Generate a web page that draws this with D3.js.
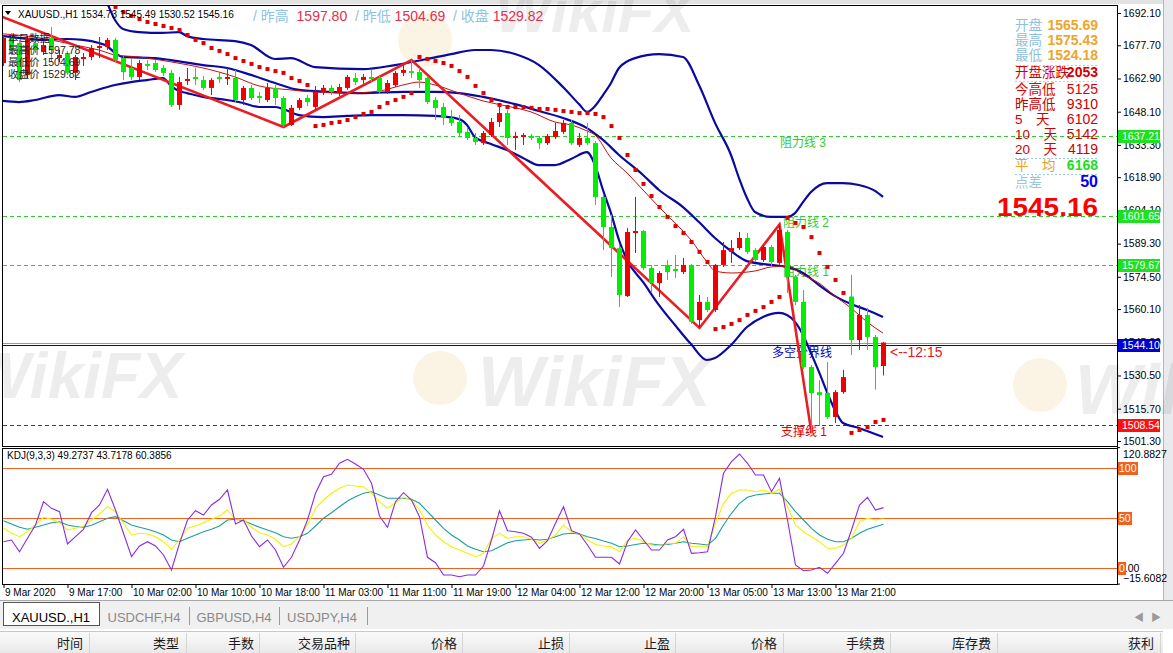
<!DOCTYPE html>
<html>
<head>
<meta charset="utf-8">
<script src="https://cdn.jsdelivr.net/npm/d3@7"></script>
<style>
body { margin: 0; background: #fff; overflow: hidden; }
svg text { font-family: "Liberation Sans", "Noto Sans CJK SC", sans-serif; }
</style>
</head>
<body>
<div id="chart"></div>
<script>
// XAUUSD H1, bars 0..110 (9 Mar 2020 .. 14 Mar)
var opens = [1669.8,1681.0,1678.7,1664.5,1678.7,1674.7,1681.0,1672.0,1674.3,1665.4,
  1671.6,1672.5,1676.5,1676.9,1680.1,1672.0,1667.6,1663.6,1669.4,1669.8,
  1667.6,1665.4,1651.1,1661.8,1663.6,1662.2,1658.7,1663.6,1662.7,1663.1,
  1653.3,1658.7,1655.1,1653.3,1658.7,1654.2,1642.2,1649.8,1654.2,1650.2,
  1656.9,1658.7,1656.4,1658.7,1663.1,1662.2,1663.6,1663.1,1656.9,1660.0,
  1665.4,1666.2,1665.8,1663.1,1653.3,1650.2,1645.3,1643.5,1639.1,1636.4,
  1634.1,1637.7,1643.5,1647.5,1636.4,1636.8,1637.3,1636.4,1634.1,1636.8,
  1639.1,1643.1,1633.3,1636.4,1634.1,1610.1,1596.7,1587.3,1565.9,1594.0,
  1594.9,1578.4,1571.7,1579.8,1578.0,1576.6,1579.8,1555.2,1563.3,1559.7,
  1579.8,1585.6,1587.3,1591.8,1586.4,1582.0,1587.8,1580.7,1594.5,1574.4,
  1563.3,1534.3,1523.1,1522.7,1512.0,1523.1,1565.7,1546.3,1557.5,1547.7,
  1534.73];
var highs = [1682.3,1683.2,1680.1,1681.8,1680.1,1679.2,1685.9,1675.6,1675.1,1673.4,
  1674.3,1677.8,1681.4,1681.0,1681.0,1673.4,1672.0,1671.1,1671.1,1671.1,
  1668.9,1666.7,1663.6,1667.6,1667.6,1664.0,1663.1,1665.4,1667.6,1666.7,
  1659.6,1660.0,1656.9,1660.9,1660.0,1655.1,1651.1,1654.2,1655.5,1659.6,
  1660.0,1660.0,1660.5,1664.5,1665.4,1664.9,1666.7,1664.5,1662.2,1666.2,
  1668.9,1671.1,1667.6,1664.0,1654.7,1652.0,1648.9,1646.6,1640.8,1638.6,
  1639.5,1645.3,1651.1,1648.9,1639.1,1638.6,1638.2,1637.3,1638.2,1643.1,
  1644.4,1644.4,1638.6,1643.1,1635.0,1611.0,1602.1,1588.7,1596.3,1610.1,
  1595.4,1579.8,1577.1,1582.0,1584.2,1582.9,1580.2,1566.4,1565.5,1580.2,
  1590.0,1590.9,1594.5,1594.0,1587.3,1588.7,1588.7,1597.8,1595.4,1575.3,
  1568.6,1535.2,1528.5,1536.5,1524.0,1533.0,1575.4,1561.9,1560.6,1548.6,
  1545.49];
var lows = [1668.5,1673.4,1661.3,1663.1,1674.3,1673.4,1670.3,1670.3,1664.5,1662.2,
  1668.5,1671.1,1672.0,1675.6,1670.3,1662.2,1662.2,1662.2,1666.7,1665.8,
  1664.0,1650.2,1648.9,1660.0,1660.0,1657.8,1655.5,1660.9,1660.0,1652.4,
  1651.1,1653.3,1652.0,1652.4,1651.1,1641.3,1641.7,1648.9,1650.6,1648.9,
  1655.5,1655.5,1655.1,1657.8,1660.0,1660.5,1661.3,1656.0,1656.0,1659.1,
  1664.0,1663.1,1658.7,1651.5,1644.4,1642.2,1641.7,1636.8,1635.5,1633.3,
  1633.3,1636.8,1641.3,1633.3,1631.0,1633.3,1635.5,1631.5,1633.3,1635.9,
  1638.2,1633.3,1632.4,1633.3,1606.5,1586.4,1574.4,1561.0,1565.5,1585.1,
  1577.5,1567.7,1565.5,1573.1,1574.0,1575.7,1553.5,1551.7,1558.8,1558.8,
  1578.9,1580.7,1586.4,1584.7,1581.1,1581.1,1579.3,1579.8,1567.3,1561.9,
  1533.4,1504.7,1508.0,1511.1,1509.3,1522.3,1539.6,1541.9,1541.9,1524.2,
  1530.52];
var closes = [1681.0,1675.6,1662.2,1681.0,1675.6,1677.8,1675.6,1673.4,1665.4,1672.5,
  1672.5,1676.5,1677.4,1680.1,1671.1,1665.8,1663.6,1669.8,1668.5,1666.7,
  1665.4,1651.1,1661.3,1662.7,1662.7,1658.7,1662.2,1662.7,1663.6,1653.3,
  1658.7,1654.2,1654.2,1658.7,1654.2,1642.2,1649.8,1653.3,1652.4,1656.9,
  1658.7,1656.9,1659.1,1663.6,1661.3,1663.6,1662.7,1656.9,1660.9,1665.4,
  1666.7,1665.4,1662.2,1652.4,1649.8,1645.3,1643.1,1638.6,1636.4,1634.6,
  1638.6,1643.5,1647.5,1636.4,1637.3,1637.7,1636.4,1634.1,1637.3,1639.5,
  1643.1,1634.1,1636.4,1634.1,1610.1,1596.7,1587.3,1566.4,1594.5,1594.9,
  1578.4,1571.7,1576.2,1576.6,1577.1,1579.8,1554.4,1563.3,1559.7,1579.8,
  1586.4,1587.3,1591.8,1585.6,1582.0,1587.8,1581.1,1595.4,1574.4,1563.3,
  1534.3,1522.7,1521.8,1512.0,1523.1,1529.8,1546.3,1557.5,1547.7,1534.3,
  1545.16];

// Bollinger bands and thin moving average, [bar, price]
var upperBand = [[11,1706.8],[13,1696.6],[14,1689.0],[15,1685.0],[17,1683.6],[20,1683.2],[22,1683.6],[23,1681.8],[25,1680.5],[29,1679.6],[31,1677.8],[34,1671.6],[36,1672.0],[39,1668.0],[45,1667.1],[49,1668.9],[53,1671.6],[56,1673.8],[59,1675.6],[61,1675.6],[64,1673.8],[67,1668.9],[70,1659.1],[72,1651.5],[73,1648.0],[74,1650.6],[75,1655.5],[76,1660.9],[77,1667.6],[79,1672.0],[82,1673.8],[85,1672.5],[87,1660.0],[89,1643.1],[91,1628.8],[92,1618.5],[93,1609.6],[94,1603.4],[96,1601.2],[98,1601.2],[99,1602.9],[100,1607.8],[101,1612.3],[103,1616.3],[105,1616.3],[107,1615.4],[109,1612.8],[110,1610.1]];
var midBand = [[0,1681.8],[2,1681.0],[5,1680.1],[8,1680.5],[10,1680.1],[12,1678.7],[13,1677.4],[14,1674.3],[15,1672.5],[19,1672.0],[21,1671.1],[25,1668.9],[28,1667.6],[31,1664.5],[34,1660.9],[37,1657.8],[41,1656.9],[45,1656.4],[50,1656.9],[54,1656.9],[57,1656.4],[60,1654.7],[64,1651.5],[67,1648.4],[70,1645.3],[73,1640.8],[75,1635.5],[77,1628.8],[80,1619.9],[82,1613.2],[85,1605.6],[87,1598.9],[89,1591.8],[91,1586.0],[93,1581.5],[96,1579.8],[98,1578.9],[100,1576.2],[102,1570.8],[104,1565.9],[106,1562.4],[108,1559.7],[110,1556.6]];
var lowBand = [[0,1652.9],[2,1652.4],[4,1653.3],[7,1655.5],[9,1654.7],[11,1656.9],[14,1660.0],[16,1661.3],[18,1662.2],[20,1663.1],[21,1659.6],[22,1657.3],[23,1656.4],[25,1654.7],[28,1653.3],[30,1652.0],[32,1650.2],[34,1650.2],[35,1649.3],[37,1646.6],[40,1645.7],[43,1646.2],[46,1646.6],[50,1646.6],[54,1646.2],[57,1644.8],[58,1642.2],[59,1636.8],[61,1633.7],[63,1631.0],[65,1627.5],[67,1624.3],[69,1624.3],[71,1627.0],[73,1630.1],[74,1624.3],[75,1613.2],[76,1602.9],[77,1590.9],[78,1582.0],[80,1572.2],[82,1561.9],[84,1553.0],[86,1544.5],[88,1537.4],[89,1538.3],[91,1544.1],[93,1552.1],[95,1556.6],[97,1558.4],[98,1557.5],[99,1554.4],[100,1548.6],[101,1540.5],[102,1532.1],[103,1523.1],[104,1515.1],[105,1509.3],[107,1507.1],[109,1504.4],[110,1503.1]];
var maLine = [[0,1682.8],[3,1681.8],[6,1680.1],[9,1677.8],[12,1675.6],[14,1673.4],[17,1672.5],[21,1670.3],[25,1667.6],[29,1663.6],[32,1659.6],[36,1657.8],[39,1656.9],[43,1656.4],[47,1657.3],[50,1660.0],[52,1661.3],[54,1660.0],[57,1656.4],[60,1652.9],[63,1650.6],[66,1648.0],[69,1643.5],[71,1642.2],[73,1639.5],[74,1637.7],[76,1627.5],[78,1620.8],[80,1613.2],[82,1605.6],[84,1598.5],[86,1590.9],[88,1581.1],[89,1577.1],[91,1576.2],[94,1577.1],[96,1578.9],[98,1579.3],[100,1575.3],[102,1571.7],[104,1565.9],[106,1560.6],[108,1554.4],[110,1549.4]];

// parabolic SAR per bar (null = above the window)
var sar = [null,null,null,null,null,null,null,null,null,null,null,null,null,null,
  1694.8,1692.5,1690.8,1689.4,1688.1,1687.2,1686.3,1685.4,1684.5,1682.3,1680.1,1678.7,1676.5,1675.2,1673.8,1672.0,
  1670.7,1669.4,1668.0,1667.1,1666.2,1665.4,1663.1,1661.8,1660.0,
  1641.7,1642.2,1643.1,1643.5,1644.4,1645.7,1647.1,1648.0,1650.2,1652.0,1653.3,1654.7,1656.4,
  1672.5,1671.6,1670.7,1669.8,1668.5,1666.2,1663.6,1659.6,1656.4,1653.3,1651.1,1650.2,1650.2,1650.2,1649.8,1649.3,
  1649.3,1648.9,1648.4,1648.0,1647.5,1647.5,1647.1,1645.7,1641.7,1636.4,1628.8,1622.1,1615.9,1610.5,1605.6,1601.2,
  1597.1,1594.0,1590.0,1585.6,1581.1,
  1551.2,1552.1,1553.5,1555.2,1557.5,1559.3,1561.0,1563.3,1565.5,
  1600.7,1598.5,1596.7,1592.2,1585.1,1578.9,1573.1,1567.3,
  1504.9,1506.2,1507.5,1509.8,1510.7];

// zigzag pivots [bar, price]
var zigzag = [[-3,1694.4],[35,1641.3],[51,1671.1],[87,1551.7],[97,1597.8],[101,1504.7]];

// KDJ(9,3,3)
var kLine = [39.7,35,31.3,36.3,43,50.7,48.7,45.3,38,39.7,
  42,48,54,61.3,56.3,44.7,33,34.7,34,31.3,
  26.3,18.7,28,39.7,42,45.3,48.7,52,58,48,
  48.7,40.7,35.3,33,28.7,21.3,24,31.3,43,59.7,
  68,74.7,79.7,83,82,81.3,74.7,66.3,59.7,65.3,
  70.7,68,58,43,33,26.3,21.3,18,14.7,11.3,
  14.7,29.7,34.7,29.7,31.3,31.3,28.7,24.7,28,33,
  43,36.3,34,28,23.5,22,21.3,16.3,28,29.7,
  26.3,23,22,24.7,24.7,31.3,21.3,21.3,21.3,44.7,
  64.7,74.7,78,78,76.3,78,74.7,78.7,61.3,43,
  36.3,31.3,26.3,19.7,19.7,23,29.7,46.3,49.7,48,49.2737];
var dLine = [47.3,44,40.7,38.7,40.7,43,45.3,46.3,43,41.5,
  40.7,42.7,46.3,49.7,51.3,47.3,43,40.7,38.7,36.3,
  33,28,26.3,29.7,33,36.3,38.7,42,48,48.7,
  47.3,44,40.7,38,35.3,31.3,29.7,31.3,34.7,42,
  49.7,55.3,61.3,67,71.3,74.7,76.3,73,69.7,69.7,
  69.7,68.7,64.7,56.3,48,39.7,33,28,22,18.7,
  16.3,17.3,21.3,25.3,27.3,28,28.7,28,28.7,31.3,
  34,34.7,34,31.3,29.5,27,24.7,21.3,22,23.5,
  24.7,24,23,23.5,24.7,26.3,24.7,24,23,29.7,
  43,54.7,64.7,70.7,73,74,74.7,74.7,66.3,56.3,
  48,39.7,33,28.7,26.3,26.3,29.7,34.7,38.7,41.3,43.7178];
var jLine = [26.3,28,16.3,29.7,43,66.3,59.7,56.3,24,31.3,
  38.7,55.3,63,78.7,58,34.7,11.3,22,26.3,22,
  13,-2,24.7,48,57.3,53,63,68.7,78,44,
  48,32,21.3,28,18,0.7,10.7,28,48,74.7,
  91.3,93.7,104.7,108.7,104,98.7,84.7,52,40.7,66.3,
  75.3,68,51.3,10.7,5.3,-7,-7,-8.7,-7,-7,
  2,28,57.3,37.3,36.3,34.7,30.7,19.7,27.3,44.7,
  61.3,37.3,34,23,10.7,10.7,10.7,4,26.3,38,
  28,18,18,28,31.3,38.7,14.7,15.3,16.3,51.3,
  94.7,106.3,114,104.7,93,93,76.3,89.7,48,3,
  -2.7,-2,0.7,-5.3,4.7,14.7,38,63,70.7,58,60.3856];

var priceTicks = [1692.10,1677.70,1662.90,1648.10,1633.30,1618.90,1604.10,1589.30,1574.50,1560.10,1545.30,1530.50,1515.70,1501.30];
var kdjTicks = [120.8827, 0, -15.6082];
var kdjLevels = [100, 50, 0];
var timeLabels = ["9 Mar 2020","9 Mar 17:00","10 Mar 02:00","10 Mar 10:00","10 Mar 18:00","11 Mar 03:00","11 Mar 11:00","11 Mar 19:00","12 Mar 04:00","12 Mar 12:00","12 Mar 20:00","13 Mar 05:00","13 Mar 13:00","13 Mar 21:00"];

var levelNames = ["阻力线 3","阻力线 2","阻力线 1","多空分界线","支撑线 1"];
var levelPrices = [1637.21,1601.65,1579.67,1544.10,1508.54];
var bidPrice = 1545.16;

var infoLabels = ["开盘","最高","最低","开盘涨跌","今高低","昨高低","5　天","10　天","20　天","平　均","点差"];
var infoValues = ["1565.69","1575.43","1524.18","2053","5125","9310","6102","5142","4119","6168","50"];
var yestLabels = ["昨高","昨低","收盘"];
var yestValues = ["1597.80","1504.69","1529.82"];
var dayLabels = ["本日数据","最高价 1597.78","最低价 1504.69","收盘价 1529.82"];
var tabNames = ["XAUUSD.,H1","USDCHF,H4","GBPUSD,H4","USDJPY,H4"];
var columns = ["时间","类型","手数","交易品种","价格","止损","止盈","价格","手续费","库存费","获利"];

var RED = "#f00000", GREEN = "#00ee00";
var f2 = d3.format(".2f"), f4 = d3.format(".4f");

var svg = d3.select("#chart").append("svg")
  .attr("width", 1173).attr("height", 653);

var x = d3.scaleLinear().domain([0, 110]).range([3, 883]);
var y = d3.scaleLinear().domain([1501.3, 1692.1]).range([441, 13]);
var yk = d3.scaleLinear().domain([0, 100]).range([568, 468]);

// window chrome
svg.append("rect").attr("x", 0).attr("y", 0).attr("width", 1173).attr("height", 4).attr("fill", "#e2e2e2");
svg.append("rect").attr("x", 1163).attr("y", 0).attr("width", 10).attr("height", 600).attr("fill", "#e8eaee");
svg.append("line").attr("x1", 1163.5).attr("x2", 1163.5).attr("y1", 0).attr("y2", 600).attr("stroke", "#b4b8bc");

var defs = svg.append("defs");
defs.append("clipPath").attr("id", "clipMain").append("rect")
  .attr("x", 3).attr("y", 6).attr("width", 1114).attr("height", 440);
defs.append("clipPath").attr("id", "clipKdj").append("rect")
  .attr("x", 3).attr("y", 449).attr("width", 1114).attr("height", 135);

// watermark
var wm = svg.append("g").attr("opacity", 0.065);
[[495,32,60],[-30,398,64],[478,406,70],[1075,414,70]].forEach(function(p) {
  wm.append("text").attr("x", p[0]).attr("y", p[1]).attr("font-size", p[2] + "px")
    .attr("font-weight", "bold").attr("font-style", "italic").attr("fill", "#000").text("WikiFX");
});
[[425,40],[440,378],[1040,385]].forEach(function(c) {
  svg.append("circle").attr("cx", c[0]).attr("cy", c[1]).attr("r", 27).attr("fill", "#f1dcaa").attr("opacity", 0.3);
});

var gMain = svg.append("g").attr("clip-path", "url(#clipMain)");

// horizontal objects
var levelColor = ["#2ecc2e","#2ecc2e","#2ecc2e","#0000c0","#e00000"];
levelPrices.forEach(function(p, i) {
  gMain.append("line").attr("x1", 3).attr("x2", 1117)
    .attr("y1", Math.round(y(p)) + 0.5).attr("y2", Math.round(y(p)) + 0.5)
    .attr("stroke", levelColor[i]).attr("stroke-width", 1)
    .attr("stroke-dasharray", i === 3 ? null : "4,3");
});
gMain.append("line").attr("x1", 3).attr("x2", 1117)
  .attr("y1", Math.round(y(bidPrice)) + 0.5).attr("y2", Math.round(y(bidPrice)) + 0.5)
  .attr("stroke", "#9a9a9a");

var labelX = [780, 783, 783, 772, 781];
levelNames.forEach(function(n, i) {
  gMain.append("text").attr("x", labelX[i]).attr("y", y(levelPrices[i]) + (i === 3 ? 12 : 11))
    .attr("font-size", "12px").attr("fill", i < 3 ? "#33cc33" : levelColor[i]).text(n);
});

// bands and MA
var bandLine = d3.line().x(function(d) { return x(d[0]); }).y(function(d) { return y(d[1]); })
  .curve(d3.curveMonotoneX);
[upperBand, midBand, lowBand].forEach(function(b) {
  gMain.append("path").attr("d", bandLine(b)).attr("fill", "none")
    .attr("stroke", "#0a0aa0").attr("stroke-width", 2.2);
});
gMain.append("path").attr("d", bandLine(maLine)).attr("fill", "none")
  .attr("stroke", "#c81010").attr("stroke-width", 1);

// SAR
gMain.selectAll("rect.sar").data(d3.range(sar.length).filter(function(i) { return sar[i] !== null; }))
  .enter().append("rect").attr("class", "sar")
  .attr("x", function(i) { return x(i) - 1.5; })
  .attr("y", function(i) { return y(sar[i]) - 2; })
  .attr("width", 4).attr("height", 4).attr("fill", "#e00000");

// zigzag
gMain.append("path")
  .attr("d", d3.line().x(function(d) { return x(d[0]) + 0.5; }).y(function(d) { return y(d[1]); })(zigzag))
  .attr("fill", "none").attr("stroke", "#ec1c24").attr("stroke-width", 2.6);

// candles
var bars = d3.range(opens.length);
var cg = gMain.selectAll("g.candle").data(bars).enter().append("g").attr("class", "candle");
cg.append("rect")
  .attr("x", function(i) { return x(i); }).attr("width", 1)
  .attr("y", function(i) { return y(highs[i]); })
  .attr("height", function(i) { return Math.max(1, y(lows[i]) - y(highs[i])); })
  .attr("fill", function(i) { return closes[i] >= opens[i] ? RED : GREEN; });
cg.append("rect")
  .attr("x", function(i) { return x(i) - 2; }).attr("width", 5)
  .attr("y", function(i) { return y(Math.max(opens[i], closes[i])); })
  .attr("height", function(i) { return Math.max(1.5, Math.abs(y(opens[i]) - y(closes[i]))); })
  .attr("fill", function(i) { return closes[i] >= opens[i] ? RED : GREEN; });

// pane borders
svg.append("rect").attr("x", 2.5).attr("y", 5.5).attr("width", 1115).attr("height", 441)
  .attr("fill", "none").attr("stroke", "#000");
svg.append("rect").attr("x", 2.5).attr("y", 448.5).attr("width", 1115).attr("height", 136)
  .attr("fill", "none").attr("stroke", "#000");

// price axis
var pAxis = svg.append("g").attr("transform", "translate(1117,0)")
  .call(d3.axisRight(y).tickValues(priceTicks).tickSize(4).tickPadding(2).tickFormat(f2));
pAxis.select(".domain").remove();
pAxis.selectAll("text").attr("font-size", "10.5px").attr("fill", "#000");

var boxColor = ["#1ee01e","#1ee01e","#1ee01e","#0000d0","#ff1010"];
levelPrices.forEach(function(p, i) {
  var yy = Math.round(y(p));
  svg.append("rect").attr("x", 1118).attr("y", yy - 6).attr("width", 42).attr("height", 13).attr("fill", boxColor[i]);
  svg.append("text").attr("x", 1122).attr("y", yy + 4).attr("font-size", "10.5px").attr("fill", "#fff").text(f2(p));
});

// header texts
var last = opens.length - 1;
svg.append("path").attr("d", "M5,11 L11,11 L8,15 Z").attr("fill", "#000");
svg.append("text").attr("x", 18).attr("y", 18).attr("font-size", "10px").attr("fill", "#000")
  .text("XAUUSD.,H1  " + [opens[last], highs[last], lows[last], closes[last]].map(f2).join(" "));

var yt = svg.append("text").attr("x", 253).attr("y", 21).attr("font-size", "14px").style("white-space", "pre");
yestLabels.forEach(function(l, i) {
  yt.append("tspan").attr("fill", "#8ec3e3").text((i ? "  / " : "/ ") + l + (i ? "" : " "));
  yt.append("tspan").attr("fill", "#e2304c").text(" " + yestValues[i]);
});

dayLabels.forEach(function(t, i) {
  svg.append("text").attr("x", 8).attr("y", 42 + i * 12).attr("font-size", "10.5px").attr("fill", "#222").text(t);
});

// info panel
var labelColors = ["#8fbfd9","#8fbfd9","#8fbfd9","#d40000","#e00000","#c80000","#d00000","#d00000","#d00000","#f0a020","#9cc6dc"];
var valueColors = ["#efa52a","#efa52a","#efa52a","#d40000","#e00000","#c80000","#d00000","#d00000","#d00000","#22dd22","#0000ee"];
var rowY = [30, 45, 60, 77, 94, 109, 124, 139, 154, 170, 187];
infoLabels.forEach(function(t, i) {
  svg.append("text").attr("x", 1015).attr("y", rowY[i]).attr("font-size", "13.5px")
    .attr("fill", labelColors[i]).style("white-space", "pre").text(t);
  svg.append("text").attr("x", 1098).attr("y", rowY[i]).attr("text-anchor", "end")
    .attr("font-size", i === 10 ? "16px" : "14px")
    .attr("font-weight", [0,1,2,3,9,10].indexOf(i) >= 0 ? "bold" : "normal")
    .attr("fill", valueColors[i]).text(infoValues[i]);
});
[[65,"#f0c0a0"],[81,"#f0c0b0"],[158,"#a0c8e0"],[174,"#a0c8e0"]].forEach(function(s) {
  svg.append("line").attr("x1", 1015).attr("x2", 1098).attr("y1", s[0] + 0.5).attr("y2", s[0] + 0.5)
    .attr("stroke", s[1]).attr("stroke-dasharray", "2,2");
});
svg.append("text").attr("x", 997).attr("y", 216).attr("font-size", "25px").attr("font-weight", "bold")
  .attr("fill", "#ff0000").attr("textLength", 101).attr("lengthAdjust", "spacingAndGlyphs")
  .text(f2(bidPrice));

svg.append("text").attr("x", 890).attr("y", 357).attr("font-size", "14px").attr("fill", "#e8141c").text("<--12:15");

// KDJ pane
var gK = svg.append("g").attr("clip-path", "url(#clipKdj)");
kdjLevels.forEach(function(v) {
  gK.append("line").attr("x1", 3).attr("x2", 1117).attr("y1", Math.round(yk(v)) + 0.5).attr("y2", Math.round(yk(v)) + 0.5)
    .attr("stroke", "#f0601e").attr("stroke-width", 1.2);
});
var kdjLine = d3.line().x(function(d, i) { return x(i) + 0.5; }).y(function(d) { return yk(d); });
[[dLine, "#1b9e9e"], [kLine, "#f2f200"], [jLine, "#8a2be2"]].forEach(function(s) {
  gK.append("path").attr("d", kdjLine(s[0])).attr("fill", "none").attr("stroke", s[1]).attr("stroke-width", 1.1);
});
svg.append("text").attr("x", 7).attr("y", 459).attr("font-size", "10px").attr("fill", "#000")
  .text("KDJ(9,3,3) " + [kLine[last], dLine[last], jLine[last]].map(f4).join(" "));

var kAxis = svg.append("g").attr("transform", "translate(1117,0)")
  .call(d3.axisRight(yk).tickValues(kdjTicks).tickSize(3).tickPadding(3)
    .tickFormat(function(d) { return d === 0 ? "0.00" : f4(d); }));
kAxis.select(".domain").remove();
kAxis.selectAll("text").attr("font-size", "10.5px").attr("fill", "#000")
  .attr("x", function(d) { return d === 0 ? 2 : 6; })
  .attr("dy", function(d) { return d > 100 ? "0.95em" : (d < 0 ? "-0.2em" : "0.32em"); });
kdjLevels.forEach(function(v) {
  var t = String(v);
  svg.append("rect").attr("x", 1118).attr("y", Math.round(yk(v)) - 6).attr("width", 6 * t.length + 2).attr("height", 13)
    .attr("fill", "#f0601e");
  svg.append("text").attr("x", 1119).attr("y", Math.round(yk(v)) + 4).attr("font-size", "10.5px").attr("fill", "#fff").text(t);
});

// time axis
var tAxis = svg.append("g").attr("transform", "translate(0.5,584)")
  .call(d3.axisBottom(x).tickValues(d3.range(0, 105, 8)).tickSize(4).tickPadding(1)
    .tickFormat(function(d, i) { return timeLabels[i]; }));
tAxis.select(".domain").remove();
tAxis.selectAll("text").attr("text-anchor", "start").attr("dx", "1px").attr("font-size", "10px").attr("fill", "#000");

// tabs
svg.append("rect").attr("x", 0).attr("y", 600).attr("width", 1173).attr("height", 29).attr("fill", "#f0f0f0");
svg.append("line").attr("x1", 0).attr("x2", 1173).attr("y1", 600.5).attr("y2", 600.5).attr("stroke", "#a8a8a8");
svg.append("rect").attr("x", 3.5).attr("y", 602.5).attr("width", 96).attr("height", 23)
  .attr("fill", "#fff").attr("stroke", "#555");
var tabX = [51, 144, 234, 322];
tabNames.forEach(function(t, i) {
  svg.append("text").attr("x", tabX[i]).attr("y", 622).attr("text-anchor", "middle").attr("font-size", "13px")
    .attr("fill", i === 0 ? "#000" : "#8a8a8a").text(t);
  if (i > 0) {
    svg.append("line").attr("x1", tabX[i] + 45.5).attr("x2", tabX[i] + 45.5).attr("y1", 607).attr("y2", 625).attr("stroke", "#9a9a9a");
  }
});
svg.append("text").attr("x", 1134).attr("y", 621).attr("font-size", "10px").attr("fill", "#9a9a9a").text("◀");
svg.append("text").attr("x", 1151).attr("y", 621).attr("font-size", "10px").attr("fill", "#9a9a9a").text("▶");

// terminal header
var hg = defs.append("linearGradient").attr("id", "hdr").attr("x1", 0).attr("x2", 0).attr("y1", 0).attr("y2", 1);
hg.append("stop").attr("offset", 0).attr("stop-color", "#fbfbfb");
hg.append("stop").attr("offset", 1).attr("stop-color", "#e9e9e9");
svg.append("rect").attr("x", 0).attr("y", 631).attr("width", 1163).attr("height", 22).attr("fill", "url(#hdr)");
svg.append("line").attr("x1", 0).attr("x2", 1163).attr("y1", 631.5).attr("y2", 631.5).attr("stroke", "#c8c8c8");
var colEnd = [83, 179, 254, 350, 457, 564, 670, 777, 885, 991, 1154];
var colSep = [89, 186, 259, 355, 462, 569, 675, 783, 890, 997, 1160];
columns.forEach(function(c, i) {
  svg.append("text").attr("x", colEnd[i]).attr("y", 648).attr("text-anchor", "end").attr("font-size", "13px")
    .attr("fill", "#1a1a1a").text(c);
  svg.append("line").attr("x1", colSep[i] + 0.5).attr("x2", colSep[i] + 0.5).attr("y1", 633).attr("y2", 653).attr("stroke", "#d4d4d4");
});
</script>
</body>
</html>
